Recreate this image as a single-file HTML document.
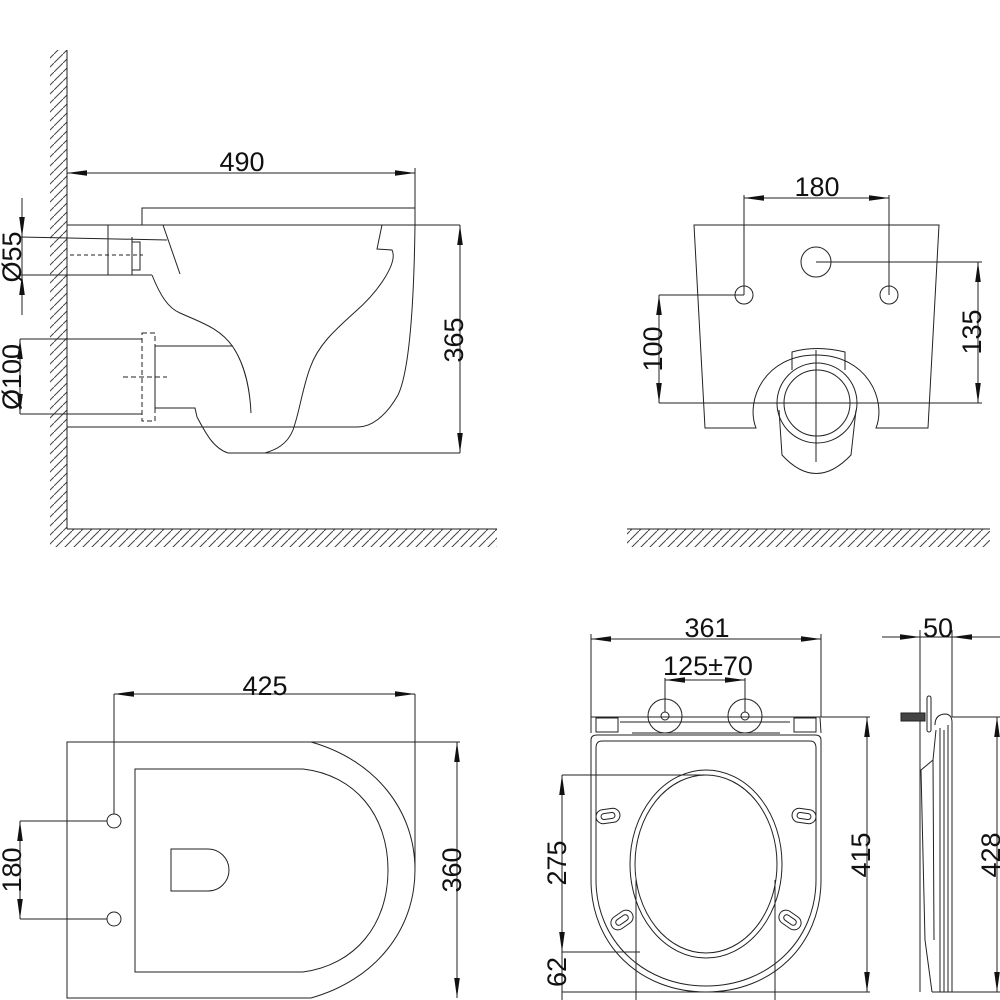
<!DOCTYPE html>
<html><head><meta charset="utf-8"><style>
html,body{margin:0;padding:0;background:#fff}
svg{display:block}
text{font-family:"Liberation Sans",Arial,sans-serif;font-size:27px;fill:#111}
</style></head><body>
<svg width="1000" height="1000" viewBox="0 0 1000 1000" xmlns="http://www.w3.org/2000/svg">
<defs>
<pattern id="h" width="9" height="9" patternUnits="userSpaceOnUse">
<line x1="0" y1="9" x2="9" y2="0" stroke="#444" stroke-width="1"/>
</pattern>
<marker id="a" viewBox="0 0 20 8" refX="20" refY="4" markerWidth="20" markerHeight="8" orient="auto-start-reverse" markerUnits="userSpaceOnUse">
<path d="M0,1.2 L20,4 L0,6.8 Z" fill="#111"/>
</marker>
</defs>
<g fill="none" stroke="#222" stroke-width="1">

<rect x="50" y="50" width="17" height="479" fill="url(#h)" stroke="none"/>
<rect x="50" y="529" width="447" height="18" fill="url(#h)" stroke="none"/>
<line x1="67" y1="50" x2="67" y2="529"/>
<line x1="67" y1="529" x2="497" y2="529"/>
<line x1="67" y1="173" x2="415" y2="173" marker-start="url(#a)" marker-end="url(#a)"/>
<line x1="415" y1="168" x2="415" y2="225"/>
<polyline points="142,225 142,208 415,208"/>
<line x1="67" y1="225" x2="460" y2="225"/>
<path d="M415,225 C414,300 410,370 398,395 C385,418 370,427 358,427"/>
<line x1="67" y1="427" x2="358" y2="427"/>
<line x1="228" y1="453" x2="460" y2="453"/>
<line x1="108" y1="225" x2="108" y2="275"/>
<line x1="20" y1="237" x2="167" y2="240"/>
<line x1="20" y1="275" x2="152" y2="275"/>
<line x1="132" y1="237" x2="132" y2="275"/>
<rect x="132" y="242" width="8" height="28"/>
<line x1="70" y1="255" x2="143" y2="255" stroke-dasharray="4,3"/>
<line x1="163" y1="225" x2="180" y2="274"/>
<path d="M152,275 C160,295 168,308 180,313 C200,322 220,328 233,347 C245,365 250,390 251,413"/>
<path d="M382,225 L377,249 L392,250 C398,262 380,290 355,312 C335,330 318,345 310,368 C302,390 300,410 293,430 C287,445 275,450 265,453"/>
<polyline points="155,346 233,346"/>
<polyline points="155,346 155,408 195,408 197,417"/>
<path d="M197,417 C205,432 213,448 228,453"/>
<rect x="142" y="333" width="13" height="88" stroke-dasharray="5,3"/>
<line x1="123" y1="377" x2="167" y2="377" stroke-dasharray="5,3"/>
<line x1="20" y1="339" x2="142" y2="339"/>
<line x1="20" y1="414" x2="142" y2="414"/>
<line x1="22" y1="198" x2="22" y2="237" marker-end="url(#a)"/>
<line x1="22" y1="315" x2="22" y2="275" marker-end="url(#a)"/>
<line x1="22" y1="237" x2="22" y2="275"/>
<line x1="20" y1="339" x2="20" y2="414" marker-start="url(#a)" marker-end="url(#a)"/>
<line x1="460" y1="225" x2="460" y2="453" marker-start="url(#a)" marker-end="url(#a)"/>

<rect x="627" y="529" width="363" height="18" fill="url(#h)" stroke="none"/>
<line x1="627" y1="529" x2="990" y2="529"/>
<path d="M694,225 L939,225 L928,428 L876,428 C887,400 867,355 816,355 C765,355 745,400 756,428 L705,428 Z"/>
<path d="M792,370 L792,352 Q816,345 845,352 L845,370"/>
<circle cx="817" cy="403" r="40"/>
<circle cx="817" cy="403" r="33"/>
<path d="M779,410 L782,455 Q816,492 851,455 L856,410"/>
<line x1="816" y1="350" x2="816" y2="462"/>
<circle cx="816" cy="262" r="15"/>
<circle cx="744" cy="295" r="9"/>
<circle cx="889" cy="295" r="9"/>
<line x1="744" y1="198" x2="889" y2="198" marker-start="url(#a)" marker-end="url(#a)"/>
<line x1="744" y1="195" x2="744" y2="295"/>
<line x1="889" y1="195" x2="889" y2="295"/>
<line x1="816" y1="262" x2="982" y2="262"/>
<line x1="659" y1="403" x2="982" y2="403"/>
<line x1="659" y1="295" x2="744" y2="295"/>
<line x1="978" y1="262" x2="978" y2="403" marker-start="url(#a)" marker-end="url(#a)"/>
<line x1="659" y1="295" x2="659" y2="403" marker-start="url(#a)" marker-end="url(#a)"/>

<path d="M311,742 L67,742 L67,998 L311,998"/>
<path d="M311,742 C375,760 415,810 415,870 C415,930 375,980 311,998"/>
<line x1="311" y1="742" x2="460" y2="742"/>
<line x1="415" y1="694" x2="415" y2="868"/>
<path d="M303,769 L135,769 L135,972 L303,972 C355,965 388,925 388,870 C388,815 355,775 303,769"/>
<path d="M208,849 L171,849 L171,891 L208,891 A21,21 0 0 0 208,849"/>
<circle cx="114" cy="821" r="7"/>
<circle cx="114" cy="919" r="7"/>
<line x1="114" y1="694" x2="114" y2="814"/>
<line x1="114" y1="694" x2="415" y2="694" marker-start="url(#a)" marker-end="url(#a)"/>
<line x1="20" y1="821" x2="107" y2="821"/>
<line x1="20" y1="919" x2="107" y2="919"/>
<line x1="20" y1="821" x2="20" y2="919" marker-start="url(#a)" marker-end="url(#a)"/>
<line x1="457" y1="742" x2="457" y2="998" marker-start="url(#a)" marker-end="url(#a)"/>

<line x1="591" y1="639" x2="821" y2="639" marker-start="url(#a)" marker-end="url(#a)"/>
<line x1="591" y1="634" x2="591" y2="733"/>
<line x1="821" y1="634" x2="821" y2="717"/>
<line x1="665" y1="680" x2="745" y2="680" marker-start="url(#a)" marker-end="url(#a)"/>
<line x1="665" y1="678" x2="665" y2="712"/>
<line x1="745" y1="678" x2="745" y2="712"/>
<circle cx="665" cy="716" r="17"/>
<circle cx="745" cy="716" r="17"/>
<circle cx="665" cy="716" r="4"/>
<circle cx="745" cy="716" r="4"/>
<path d="M591,733 L591,717 L820,717 L821,733"/>
<line x1="620" y1="722" x2="790" y2="722"/>
<line x1="632" y1="733" x2="780" y2="733"/>
<rect x="596" y="718" width="22" height="14"/>
<rect x="794" y="718" width="22" height="14"/>
<path d="M591,740 L591,880 C591,945 640,992 706,992 C772,992 821,945 821,880 L821,740 Q821,735 815,735 L597,735 Q591,735 591,740"/>
<path d="M596,748 L596,880 C596,940 643,986 706,986 C769,986 816,940 816,880 L816,748 Q816,741 810,741 L602,741 Q596,741 596,748"/>
<ellipse cx="706" cy="864" rx="76" ry="94"/>
<ellipse cx="706" cy="864" rx="71" ry="89"/>
<g transform="translate(608,816) rotate(-8)"><rect x="-12" y="-7" width="24" height="14" rx="7"/><rect x="-7" y="-3" width="14" height="6" rx="3"/></g>
<g transform="translate(804,816) rotate(8)"><rect x="-12" y="-7" width="24" height="14" rx="7"/><rect x="-7" y="-3" width="14" height="6" rx="3"/></g>
<g transform="translate(622,920) rotate(-35)"><rect x="-12" y="-7" width="24" height="14" rx="7"/><rect x="-7" y="-3" width="14" height="6" rx="3"/></g>
<g transform="translate(790,920) rotate(35)"><rect x="-12" y="-7" width="24" height="14" rx="7"/><rect x="-7" y="-3" width="14" height="6" rx="3"/></g>
<line x1="821" y1="717" x2="870" y2="717"/>
<line x1="867" y1="717" x2="867" y2="992" marker-start="url(#a)" marker-end="url(#a)"/>
<line x1="706" y1="992" x2="870" y2="992"/>
<line x1="562" y1="775" x2="706" y2="775"/>
<line x1="562" y1="952" x2="640" y2="952"/>
<line x1="562" y1="992" x2="706" y2="992"/>
<line x1="562" y1="775" x2="562" y2="952" marker-start="url(#a)" marker-end="url(#a)"/>
<line x1="562" y1="952" x2="562" y2="1000"/>
<line x1="636" y1="880" x2="636" y2="1000"/>
<line x1="775" y1="880" x2="775" y2="1000"/>

<line x1="882" y1="637" x2="920" y2="637" marker-end="url(#a)"/>
<line x1="1000" y1="637" x2="952" y2="637" marker-end="url(#a)"/>
<line x1="920" y1="637" x2="952" y2="637"/>
<line x1="920" y1="630" x2="920" y2="992"/>
<line x1="952" y1="630" x2="952" y2="717"/>
<line x1="952" y1="717" x2="1000" y2="717"/>
<line x1="952" y1="992" x2="1000" y2="992"/>
<line x1="997" y1="717" x2="997" y2="992" marker-start="url(#a)" marker-end="url(#a)"/>
<rect x="927" y="696" width="4" height="36" rx="2"/>
<rect x="901" y="713" width="24" height="8" fill="#444"/>
<path d="M935,725 Q935,714 946,714 Q952,715 952,722 L952,992 L932,992"/>
<line x1="940" y1="728" x2="940" y2="992"/>
<line x1="944" y1="730" x2="944" y2="992"/>
<line x1="948" y1="725" x2="948" y2="992"/>
<path d="M936,730 L933,760 L921,770 L925,940 L932,992"/>
<line x1="933" y1="760" x2="934" y2="940"/>
</g>

<text x="242" y="171" text-anchor="middle">490</text>
<text x="817" y="196" text-anchor="middle">180</text>
<text x="265" y="695" text-anchor="middle">425</text>
<text x="707" y="637" text-anchor="middle">361</text>
<text x="708" y="675" text-anchor="middle">125±70</text>
<text x="938" y="637" text-anchor="middle">50</text>
<text transform="translate(21,257) rotate(-90)" text-anchor="middle">Ø55</text>
<text transform="translate(21,377) rotate(-90)" text-anchor="middle">Ø100</text>
<text transform="translate(463,340) rotate(-90)" text-anchor="middle">365</text>
<text transform="translate(662,349) rotate(-90)" text-anchor="middle">100</text>
<text transform="translate(981,332) rotate(-90)" text-anchor="middle">135</text>
<text transform="translate(21,870) rotate(-90)" text-anchor="middle">180</text>
<text transform="translate(461,870) rotate(-90)" text-anchor="middle">360</text>
<text transform="translate(566,863) rotate(-90)" text-anchor="middle">275</text>
<text transform="translate(566,972) rotate(-90)" text-anchor="middle">62</text>
<text transform="translate(870,855) rotate(-90)" text-anchor="middle">415</text>
<text transform="translate(1000,855) rotate(-90)" text-anchor="middle">428</text>
</svg>
</body></html>
